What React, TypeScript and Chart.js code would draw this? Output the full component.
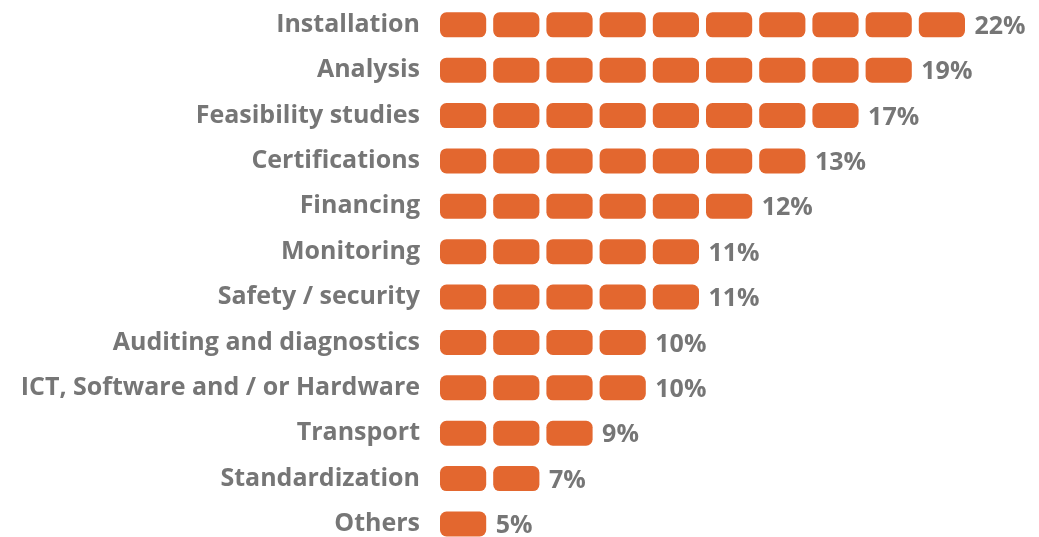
import React, { useEffect, useRef } from "react";
import { Chart, registerables } from "chart.js";

Chart.register(...registerables);

const categories = [
  "Installation",
  "Analysis",
  "Feasibility studies",
  "Certifications",
  "Financing",
  "Monitoring",
  "Safety / security",
  "Auditing and diagnostics",
  "ICT, Software and / or Hardware",
  "Transport",
  "Standardization",
  "Others",
];
const percentages = [22, 19, 17, 13, 12, 11, 11, 10, 10, 9, 7, 5];
const blocks = [10, 9, 8, 7, 6, 5, 5, 4, 4, 3, 2, 1];
const maxBlocks = 10;

const ORANGE = "#E3672F";
const GRAY = "#767676";
const FONT = "'Open Sans', sans-serif";

export default function App() {
  const ref = useRef<HTMLCanvasElement | null>(null);

  useEffect(() => {
    if (!ref.current) return;
    const datasets = Array.from({ length: maxBlocks }, (_, k) => ({
      label: `block${k + 1}`,
      data: blocks.map((b) => (b > k ? 1 : null)),
      backgroundColor: ORANGE,
      borderColor: "rgba(0,0,0,0)",
      borderWidth: 3.5,
      borderSkipped: false as const,
      borderRadius: { topLeft: 10, topRight: 10, bottomLeft: 10, bottomRight: 10 },
      inflateAmount: 0,
      barThickness: 32,
      clip: false as const,
    }));

    const valueLabels = {
      id: "valueLabels",
      afterDatasetsDraw(chart: any) {
        const { ctx, scales } = chart;
        ctx.save();
        ctx.fillStyle = GRAY;
        ctx.font = `bold 25px ${FONT}`;
        ctx.textAlign = "left";
        ctx.textBaseline = "middle";
        percentages.forEach((p, i) => {
          const x = scales.x.getPixelForValue(blocks[i]) + 6;
          const y = scales.y.getPixelForValue(i) + 2;
          ctx.fillText(`${p}%`, x, y);
        });
        ctx.restore();
      },
    };

    const chart = new Chart(ref.current, {
      type: "bar",
      data: { labels: categories, datasets },
      options: {
        indexAxis: "y",
        animation: false,
        responsive: true,
        maintainAspectRatio: false,
        layout: { padding: { top: 24.8, bottom: 13, right: 70.5, left: 0 } },
        plugins: { legend: { display: false }, tooltip: { enabled: false } },
        scales: {
          x: {
            type: "linear",
            stacked: true,
            min: 0,
            max: maxBlocks,
            display: false,
          },
          y: {
            type: "category",
            stacked: true,
            offset: false,
            grid: { display: false, drawTicks: false },
            border: { display: false },
            ticks: {
              color: GRAY,
              padding: 16.5,
              font: { family: FONT, size: 25, weight: "bold" },
            },
            afterFit(axis: any) {
              axis.width = 436.5;
              axis.paddingTop = 0;
              axis.paddingBottom = 0;
            },
          },
        },
      },
      plugins: [valueLabels],
    });
    return () => chart.destroy();
  }, []);

  return (
    <div style={{ position: "fixed", left: 0, top: 0, width: 1039, height: 537, background: "#fff" }}>
      <canvas ref={ref} />
    </div>
  );
}
